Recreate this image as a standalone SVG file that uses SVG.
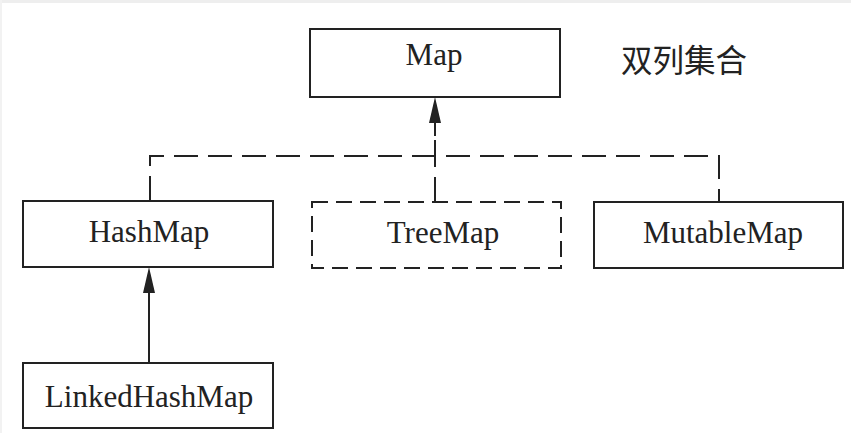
<svg xmlns="http://www.w3.org/2000/svg" width="851" height="433" viewBox="0 0 851 433">
<style>
.box{fill:#fff;stroke:#222;stroke-width:2}
.dbox{fill:#fff;stroke:#222;stroke-width:2;stroke-dasharray:16 8}
.lbl{font-family:"Liberation Serif","Times New Roman",serif;font-size:31px;fill:#222;text-anchor:middle}
.cjk{font-family:"Noto Sans CJK SC",sans-serif;font-size:31.5px;fill:#222}
.ln{fill:none;stroke:#222;stroke-width:2}
.dl{fill:none;stroke:#222;stroke-width:2;stroke-dasharray:24 10}
</style>
<rect x="0" y="0" width="851" height="433" fill="#fff"/>
<rect x="0" y="0" width="851" height="3" fill="#eeeeee"/>
<rect x="0" y="0" width="2" height="433" fill="#f2f2f2"/>
<g id="connectors">
<path class="dl" d="M150,200 V156 H719 V202"/>
<path class="dl" d="M435,201 V156"/>
<path class="ln" d="M435,156 V140"/>
<path class="ln" d="M435,136 V122"/>
<polygon points="435,97 429,123 441,123" fill="#222"/>
<path class="ln" d="M149,363 V290"/>
<polygon points="149,267 143,293 155,293" fill="#222"/>
</g>
<g id="map">
<rect class="box" x="310" y="29" width="250" height="68"/>
<text class="lbl" x="434" y="65">Map</text>
</g>
<g id="label-cn">
<text class="cjk" x="621" y="72">双列集合</text>
</g>
<g id="hashmap">
<rect class="box" x="23" y="201" width="250" height="66"/>
<text class="lbl" x="149" y="242">HashMap</text>
</g>
<g id="treemap">
<rect class="dbox" x="312" y="202" width="249" height="66"/>
<text class="lbl" x="443" y="243">TreeMap</text>
</g>
<g id="mutablemap">
<rect class="box" x="594" y="202" width="249" height="66"/>
<text class="lbl" x="723" y="243">MutableMap</text>
</g>
<g id="linkedhashmap">
<rect class="box" x="23" y="363" width="250" height="65"/>
<text class="lbl" x="149" y="407">LinkedHashMap</text>
</g>
</svg>
